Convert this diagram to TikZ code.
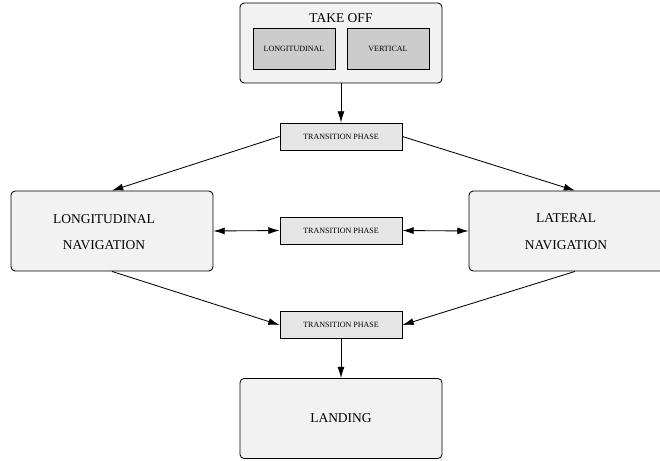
\documentclass[tikz,border=0pt]{standalone}
\usepackage{fontspec}
\setmainfont{Liberation Serif}
\usetikzlibrary{arrows.meta}
\def\bigtext{\fontsize{9.6}{19}\selectfont}
\def\smalltext{\fontsize{5.7}{7}\selectfont}
\def\tip{Latex[length=8pt, width=5pt]}

\begin{document}
\begin{tikzpicture}[x=0.025cm, y=-0.025cm, line width=0.6pt,
	phase/.style={draw, rounded corners=3pt, fill=black!5, minimum width=5.05cm, minimum height=2cm},
	mode/.style={draw, fill=black!20, minimum width=2.05cm, minimum height=1.025cm, font=\smalltext},
	trans/.style={draw, fill=black!10, minimum width=3.05cm, minimum height=0.675cm, font=\smalltext},
	caption/.style={font=\bigtext, align=center},
	link/.style={-{\tip}},
	twolink/.style={{\tip}-{\tip}}]
	\useasboundingbox (0, 0) rectangle (660, 461);

%	the four phases
	\node[phase] (takeoff) at (341, 43) {};
	\node[caption] (takeofftext) at (341, 18) {TAKE OFF};
	\node[mode] (longmode) at (294, 49) {LONGITUDINAL};
	\node[mode] (vertmode) at (388, 49) {VERTICAL};
	\node[phase] (lnav) at (112, 231) {};
	\node[caption] (lnavtext) at (104, 232) {LONGITUDINAL\\NAVIGATION};
	\node[phase, minimum width=5.3cm] (rnav) at (575, 231) {};
	\node[caption] (rnavtext) at (566, 232) {LATERAL\\NAVIGATION};
	\node[phase, font=\bigtext] (landing) at (341, 418.5) {LANDING};

%	transitions
	\node[trans] (t1) at (341, 136.5) {TRANSITION PHASE};
	\node[trans] (t2) at (341, 230.5) {TRANSITION PHASE};
	\node[trans] (t3) at (341, 325) {TRANSITION PHASE};

	\draw[link] (takeoff) -- (t1);
	\draw[link] (t1.west) -- (lnav.north);
	\draw[link] (t1.east) -- (rnav.north);
	\draw[twolink] (lnav.east) -- (t2.west);
	\draw[twolink] (t2.east) -- (rnav.west);
	\draw[link] (lnav.south) -- (t3.west);
	\draw[link] (rnav.south) -- (t3.east);
	\draw[link] (t3) -- (landing);
\end{tikzpicture}
\end{document}
